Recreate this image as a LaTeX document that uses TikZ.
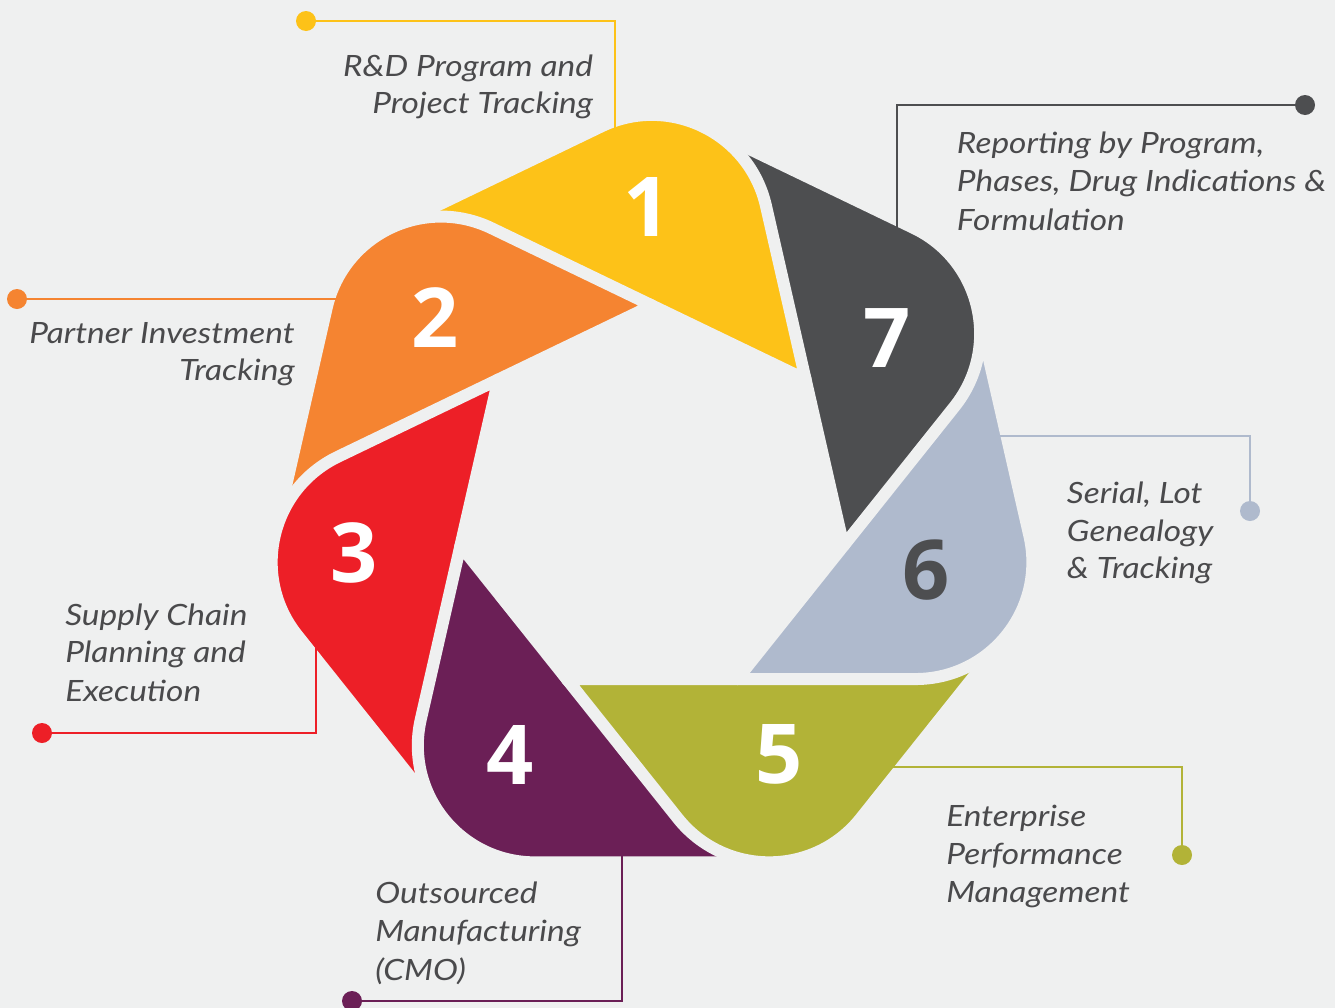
\documentclass[tikz,border=0pt]{standalone}
\usepackage{fontspec}
\setmainfont{Lato}
\newfontfamily\labelfont{Lato}[FakeStretch=1.14]
\newfontfamily\numfont{Open Sans}
\definecolor{cYellow}{HTML}{FDC218}
\definecolor{cOrange}{HTML}{F58431}
\definecolor{cRed}{HTML}{ED1F27}
\definecolor{cPurple}{HTML}{6B1F56}
\definecolor{cOlive}{HTML}{B2B337}
\definecolor{cBlue}{HTML}{AFBACD}
\definecolor{cGray}{HTML}{4D4E50}
\definecolor{cText}{HTML}{4A4A4C}
\definecolor{bgA}{HTML}{EFF0F0}
\definecolor{bgB}{HTML}{E1E2E2}
\pgfdeclareradialshading{bgshade}{\pgfpoint{0bp}{0bp}}{color(0bp)=(bgA); color(22bp)=(bgA); color(50bp)=(bgB)}
\tikzset{
  bladefill/.style={draw=bgA, line width=9pt, line join=round},
  leaddot/.style={circle, inner sep=0pt, minimum size=15pt},
  leadline/.style={line width=1.7pt},
  numtxt/.style={inner sep=0pt, text=white, font=\numfont\bfseries\fontsize{62}{62}\selectfont},
  lbl/.style={inner sep=0pt, text=cText, font=\labelfont\itshape\fontsize{22}{26}\selectfont},
}
\begin{document}
\begin{tikzpicture}[x=0.75pt, y=-0.75pt]
\useasboundingbox (0,0) rectangle (1335,1007);
% background
\fill[bgB] (0,0) rectangle (1335,1007);
\begin{scope}
  \clip (0,0) rectangle (1335,1007);
  \shade[shading=bgshade] (652,502) circle (1000);
\end{scope}
% blades (reference blade = olive, rotated about the centre)
\foreach \ang/\col in {205.71/cOrange, 257.14/cRed, 308.57/cPurple, 0/cOlive, 51.43/cBlue, 102.86/cGray, 154.29/cYellow}{
  \begin{scope}[rotate around={\ang:(652,502)}]
    \filldraw[bladefill, fill=\col] (566.74,679.04) -- (737.26,679.04) -- (990.44,655.59) -- (860.72,818.29) .. controls (813.89,877.0) and (724.61,877.0) .. (677.78,818.29) -- cycle;
  \end{scope}
}
% orange again on top of yellow (upper part only)
\begin{scope}
  \clip (0,0) rectangle (700,330);
  \begin{scope}[rotate around={205.71:(652,502)}]
    \filldraw[bladefill, fill=cOrange] (566.74,679.04) -- (737.26,679.04) -- (990.44,655.59) -- (860.72,818.29) .. controls (813.89,877.0) and (724.61,877.0) .. (677.78,818.29) -- cycle;
  \end{scope}
\end{scope}
% leader lines
\node[leaddot, fill=cYellow] (dot1) at (306,21) {};
\coordinate (end1) at (615,140);
\draw[leadline, cYellow] (dot1) -| (end1);
\node[leaddot, fill=cGray] (dot7) at (1305,105) {};
\coordinate (end7) at (897,240);
\draw[leadline, cGray] (dot7) -| (end7);
\node[leaddot, fill=cOrange] (dot2) at (17,299) {};
\coordinate (end2) at (345,299);
\draw[leadline, cOrange] (dot2) -- (end2);
\node[leaddot, fill=cBlue] (dot6) at (1250,511) {};
\coordinate (end6) at (990,436);
\draw[leadline, cBlue] (dot6) |- (end6);
\node[leaddot, fill=cRed] (dot3) at (42,733) {};
\coordinate (end3) at (316,635);
\draw[leadline, cRed] (dot3) -| (end3);
\node[leaddot, fill=cOlive] (dot5) at (1182,855) {};
\coordinate (end5) at (885,767);
\draw[leadline, cOlive] (dot5) |- (end5);
\node[leaddot, fill=cPurple] (dot4) at (352,1001) {};
\coordinate (end4) at (622,848);
\draw[leadline, cPurple] (dot4) -| (end4);
% numbers
\node[numtxt] (n1) at (647.5,207) {1};
\node[numtxt] (n2) at (435,318) {2};
\node[numtxt] (n3) at (354.5,553) {3};
\node[numtxt] (n4) at (510.5,754.5) {4};
\node[numtxt] (n5) at (779,754.5) {5};
\node[numtxt, text=cGray] (n6) at (926,570) {6};
\node[numtxt] (n7) at (887,338) {7};
% labels
\node[lbl, anchor=base east] (l1a) at (593.3,76) {R\&D Program and};
\node[lbl, anchor=base east] (l1b) at (593.3,113.5) {Project Tracking};
\node[lbl, anchor=base west] (l7a) at (956.7,153.3) {Reporting by Program,};
\node[lbl, anchor=base west] (l7b) at (956.7,191.7) {Phases, Drug Indications \&};
\node[lbl, anchor=base west] (l7c) at (956.7,230) {Formulation};
\node[lbl, anchor=base east] (l2a) at (295,343.3) {Partner Investment};
\node[lbl, anchor=base east] (l2b) at (295,380.7) {Tracking};
\node[lbl, anchor=base west] (l6a) at (1066.7,503.3) {Serial, Lot};
\node[lbl, anchor=base west] (l6b) at (1066.7,541) {Genealogy};
\node[lbl, anchor=base west] (l6c) at (1066.7,578) {\& Tracking};
\node[lbl, anchor=base west] (l3a) at (65,625) {Supply Chain};
\node[lbl, anchor=base west] (l3b) at (65,662.7) {Planning and};
\node[lbl, anchor=base west] (l3c) at (65,701) {Execution};
\node[lbl, anchor=base west] (l5a) at (946,826) {Enterprise};
\node[lbl, anchor=base west] (l5b) at (946,864) {Performance};
\node[lbl, anchor=base west] (l5c) at (946,902.3) {Management};
\node[lbl, anchor=base west] (l4a) at (375,903.3) {Outsourced};
\node[lbl, anchor=base west] (l4b) at (375,941.7) {Manufacturing};
\node[lbl, anchor=base west] (l4c) at (375,980) {(CMO)};
\end{tikzpicture}
\end{document}
